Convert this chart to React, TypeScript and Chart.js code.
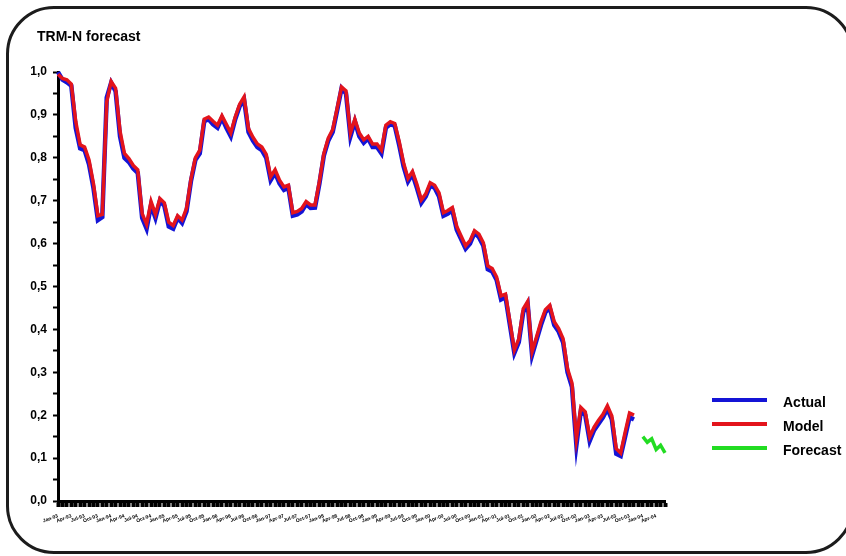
import React, { useEffect, useRef } from "react";
import { Chart, registerables } from "chart.js";

Chart.register(...registerables);

// Monthly categories, Jan-93 .. Jun-04
const MONTHS = ["Jan", "Feb", "Mar", "Apr", "May", "Jun", "Jul", "Aug", "Sep", "Oct", "Nov", "Dec"];
const YEARS = ["93", "94", "95", "96", "97", "98", "99", "00", "01", "02", "03", "04"];
const MONTH_COUNT = 138;

// Observed series
const ACTUAL = [
  1.0, 0.982, 0.976, 0.968, 0.87, 0.822, 0.818, 0.785, 0.73, 0.655,
  0.662, 0.94, 0.975, 0.955, 0.85, 0.8, 0.79, 0.775, 0.765, 0.66,
  0.635, 0.69, 0.66, 0.7, 0.688, 0.64, 0.635, 0.66, 0.648, 0.675,
  0.745, 0.795, 0.81, 0.885, 0.89, 0.878, 0.87, 0.893, 0.87, 0.85,
  0.89, 0.92, 0.935, 0.86, 0.84, 0.825, 0.818, 0.8, 0.748, 0.765,
  0.74, 0.725, 0.73, 0.665, 0.668, 0.675, 0.692, 0.683, 0.684, 0.74,
  0.805, 0.84, 0.86, 0.91, 0.962, 0.95, 0.85, 0.885, 0.85, 0.835,
  0.845, 0.825, 0.825, 0.81, 0.87, 0.878, 0.875, 0.83, 0.78, 0.745,
  0.762, 0.73, 0.695, 0.71, 0.735, 0.73, 0.71, 0.665, 0.67, 0.678,
  0.632, 0.61, 0.588, 0.6, 0.625, 0.615, 0.595, 0.54, 0.535, 0.515,
  0.47, 0.475, 0.41, 0.345, 0.37, 0.44, 0.46, 0.34, 0.375, 0.41,
  0.44, 0.45, 0.41, 0.395, 0.37, 0.3, 0.266, 0.13, 0.21, 0.2,
  0.14, 0.165, 0.18, 0.195, 0.215, 0.19, 0.11, 0.105, 0.15, 0.195,
  0.19,
];

// In-sample model fit
const MODEL = [
  0.995, 0.985, 0.982, 0.972, 0.885, 0.83, 0.825, 0.795, 0.74, 0.665,
  0.668, 0.93, 0.978, 0.962, 0.862, 0.81, 0.798, 0.782, 0.772, 0.67,
  0.645, 0.698, 0.668, 0.705, 0.695, 0.65, 0.642, 0.665, 0.655, 0.682,
  0.75, 0.8, 0.818, 0.89, 0.895, 0.885, 0.876, 0.898, 0.878, 0.858,
  0.895, 0.925, 0.942, 0.868, 0.848, 0.832, 0.825, 0.808, 0.756, 0.772,
  0.748, 0.732, 0.736, 0.672, 0.675, 0.682, 0.698, 0.69, 0.69, 0.745,
  0.81, 0.846, 0.866, 0.915, 0.965, 0.956, 0.858, 0.89, 0.858, 0.842,
  0.85, 0.832, 0.832, 0.818, 0.876, 0.884, 0.88, 0.838, 0.788, 0.752,
  0.768, 0.738, 0.702, 0.716, 0.742, 0.736, 0.718, 0.672, 0.677, 0.684,
  0.64, 0.617, 0.595, 0.607, 0.63, 0.622, 0.602, 0.548, 0.542, 0.522,
  0.478, 0.482, 0.418, 0.352, 0.378, 0.448, 0.465, 0.348, 0.382, 0.418,
  0.446, 0.456, 0.418, 0.402, 0.378, 0.308, 0.275, 0.145, 0.218, 0.208,
  0.15, 0.172, 0.188, 0.202, 0.222, 0.198, 0.122, 0.112, 0.16, 0.205,
  0.2,
];

// Out-of-sample forecast for the last months
const FORECAST = [0.15, 0.137, 0.145, 0.12, 0.13, 0.112];

const SERIES_NAMES = ["Actual", "Model", "Forecast"];
const SERIES_COLORS = ["#1414d6", "#e3141c", "#22dc22"];

const FONT = '"Liberation Sans", Arial, sans-serif';

function buildLabels(): string[] {
  const out: string[] = [];
  for (let i = 0; i < MONTH_COUNT; i++) {
    out.push(MONTHS[i % 12] + "-" + YEARS[Math.floor(i / 12)]);
  }
  return out;
}

// Short horizontal swatch used as the legend marker
function lineSwatch(color: string): HTMLCanvasElement {
  const c = document.createElement("canvas");
  c.width = 64;
  c.height = 12;
  const g = c.getContext("2d")!;
  g.fillStyle = color;
  g.fillRect(0, 1, 55, 4);
  return c;
}

// Places the title and legend blocks
const blockPlacement = {
  id: "blockPlacement",
  afterLayout(chart: any) {
    const tb = chart.titleBlock;
    if (tb) {
      tb.left += 10;
      tb.right += 10;
    }
    const lg = chart.legend;
    if (!lg) return;
    const w = lg.width;
    const h = lg.height;
    lg.left = 702;
    lg.right = lg.left + w;
    lg.top = 386;
    lg.bottom = lg.top + Math.max(h, 120);
  },
};

export default function App() {
  const canvasRef = useRef<HTMLCanvasElement | null>(null);

  useEffect(() => {
    const canvas = canvasRef.current;
    if (!canvas) return;
    const labels = buildLabels();
    const swatches = SERIES_COLORS.map(lineSwatch);
    const forecastData = FORECAST.map((y, i) => ({ x: labels[labels.length - FORECAST.length + i], y }));

    const chart = new Chart(canvas, {
      type: "line",
      data: {
        labels,
        datasets: [
          {
            label: SERIES_NAMES[0],
            data: ACTUAL,
            borderColor: SERIES_COLORS[0],
            backgroundColor: SERIES_COLORS[0],
            borderWidth: 4.5,
            pointRadius: 0,
            tension: 0,
            clip: false as any,
            order: 2,
          },
          {
            label: SERIES_NAMES[1],
            data: MODEL,
            borderColor: SERIES_COLORS[1],
            backgroundColor: SERIES_COLORS[1],
            borderWidth: 3.5,
            pointRadius: 0,
            tension: 0,
            clip: false as any,
            order: 1,
          },
          {
            label: SERIES_NAMES[2],
            data: forecastData as any,
            borderColor: SERIES_COLORS[2],
            backgroundColor: SERIES_COLORS[2],
            borderWidth: 3.5,
            pointRadius: 0,
            tension: 0,
            clip: false as any,
            order: 0,
          },
        ],
      },
      options: {
        animation: false,
        responsive: false,
        devicePixelRatio: 1,
        events: [],
        layout: { padding: { left: 27, right: 181, top: 0, bottom: 25 } },
        scales: {
          x: {
            type: "category",
            offset: false,
            afterFit: (scale: any) => {
              scale.height = 30;
            },
            border: { display: true, color: "#000", width: 3 },
            grid: {
              display: true,
              drawOnChartArea: false,
              drawTicks: true,
              tickLength: 6,
              tickWidth: 4,
              tickColor: "#000",
            },
            ticks: {
              autoSkip: false,
              minRotation: 20,
              maxRotation: 20,
              padding: 6,
              color: "#000",
              font: { size: 5, weight: "bold", family: FONT },
              callback: function (this: any, value: any, index: number) {
                return index % 3 === 0 ? this.getLabelForValue(value) : "";
              },
            },
          },
          y: {
            min: 0,
            max: 1,
            afterFit: (scale: any) => {
              scale.width = 31;
            },
            border: { display: true, color: "#000", width: 3 },
            grid: {
              display: true,
              drawOnChartArea: false,
              drawTicks: true,
              tickLength: 5,
              tickWidth: 2,
              tickColor: "#000",
            },
            ticks: {
              stepSize: 0.05,
              padding: 6,
              color: "#000",
              font: { size: 12, weight: "bold", family: FONT },
              callback: (value: any) => {
                const v = Number(value);
                const hundredths = Math.round(v * 100);
                if (hundredths % 10 !== 0) return "";
                return v.toFixed(1).replace(".", ",");
              },
            },
          },
        },
        plugins: {
          tooltip: { enabled: false },
          title: {
            display: true,
            text: "TRM-N forecast",
            align: "start",
            color: "#000",
            font: { size: 14, weight: "bold", family: FONT, lineHeight: 1.2 },
            padding: { top: 28.6, bottom: 26.6 },
          },
          legend: {
            display: true,
            position: "chartArea" as any,
            align: "start",
            labels: {
              usePointStyle: true,
              pointStyleWidth: 64,
              padding: 10,
              color: "#000",
              font: { size: 14, weight: "bold", family: FONT },
              generateLabels: (ch: any) => {
                const base = Chart.defaults.plugins.legend.labels.generateLabels(ch);
                return base
                  .sort((a: any, b: any) => a.datasetIndex - b.datasetIndex)
                  .map((item: any) => ({
                    ...item,
                    pointStyle: swatches[item.datasetIndex],
                    lineWidth: 0,
                  }));
              },
            },
          },
        },
      },
      plugins: [blockPlacement],
    });

    return () => {
      chart.destroy();
    };
  }, []);

  return (
    <>
      <div style={{ position: "fixed", left: 0, top: 0, width: 846, height: 556, background: "#fff" }}>
        <canvas ref={canvasRef} width={846} height={556} style={{ width: 846, height: 556, display: "block" }} />
      </div>
      <div
        style={{
          position: "fixed",
          left: 6,
          top: 6,
          width: 848,
          height: 548,
          border: "3px solid #1c1c1c",
          borderRadius: 48,
          boxSizing: "border-box",
          pointerEvents: "none",
        }}
      />
    </>
  );
}
